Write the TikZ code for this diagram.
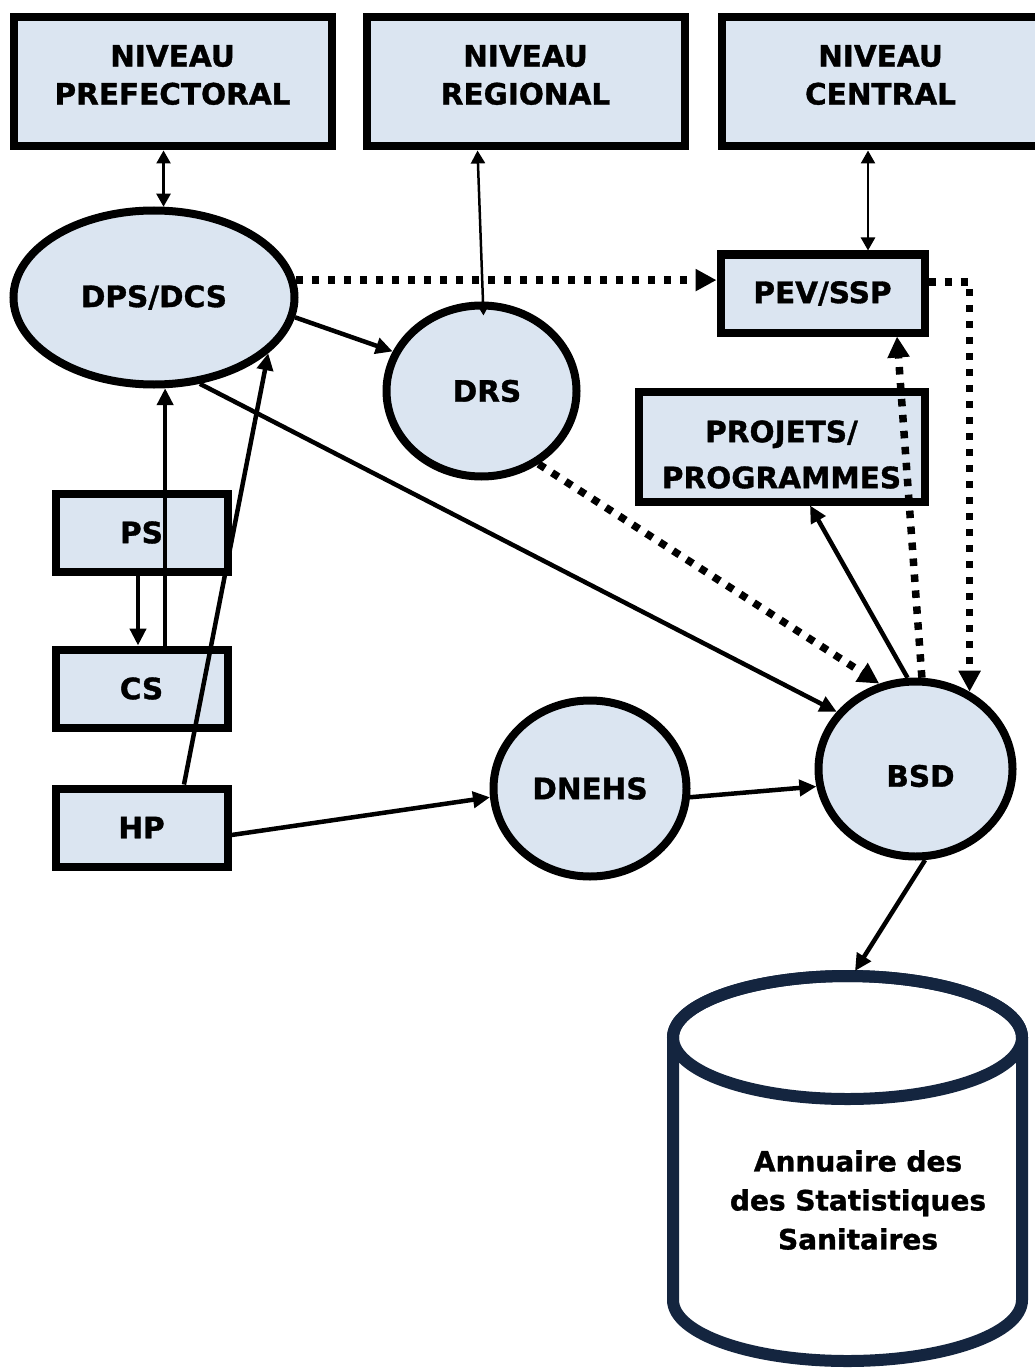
\documentclass[tikz,border=0pt]{standalone}
\usepackage{fontspec}
\setmainfont{DejaVu Sans}[BoldFeatures={FakeBold=1.2}]
\usetikzlibrary{arrows.meta,shapes.geometric,calc}
\definecolor{boxfill}{HTML}{DBE5F1}
\definecolor{navy}{HTML}{14253F}
\begin{document}
\begin{tikzpicture}[x=1pt,y=-1pt,
  box/.style={draw=black,line width=8pt,fill=boxfill,inner sep=0pt,
    font=\bfseries\fontsize{29.5}{38}\selectfont,align=center},
  ell/.style={box,ellipse},
  txt/.style={font=\bfseries\fontsize{29.5}{38}\selectfont,align=center,inner sep=0pt},
  thinlink/.style={line width=2.5pt,{Triangle[length=13pt,width=14pt]}-{Triangle[length=13pt,width=14pt]}},
  link/.style={line width=4.5pt,-{Triangle[length=17pt,width=16pt]}},
  dotlink/.style={line width=7.5pt,dash pattern=on 7.5pt off 8.5pt,line cap=butt,-{Triangle[length=21pt,width=21pt]}}
]
\useasboundingbox (0,0) rectangle (1035,1372);
\fill[white] (0,0) rectangle (1035,1372);

% top level boxes
\node[box,minimum width=318pt,minimum height=129pt] (pref) at (172.5,82) {};
\node[txt] (preft) at ([yshift=7pt]pref.center) {NIVEAU\\PREFECTORAL};
\node[box,minimum width=318pt,minimum height=129pt] (reg) at (525.5,82) {};
\node[txt] (regt) at ([yshift=7pt]reg.center) {NIVEAU\\REGIONAL};
\node[box,minimum width=318pt,minimum height=129pt] (cent) at (880.5,82) {};
\node[txt] (centt) at ([yshift=7pt]cent.center) {NIVEAU\\CENTRAL};

% ellipses
\node[ell,minimum width=281pt,minimum height=174pt] (dps) at (154,297.5) {DPS/DCS};
\node[ell,minimum width=190pt,minimum height=171pt] (drs) at (481.5,391) {\hspace*{11pt}DRS};
\node[ell,minimum width=193pt,minimum height=176pt] (dnehs) at (590,788.5) {DNEHS};
\node[ell,minimum width=194pt,minimum height=175pt] (bsd) at (915.5,769) {};
\node[txt] (bsdt) at ([xshift=5pt,yshift=-7pt]bsd.center) {BSD};

% boxes
\node[box,minimum width=204pt,minimum height=78pt] (pev) at (822.5,293.5) {PEV/SSP};
\node[box,minimum width=286pt,minimum height=110pt] (proj) at (781.5,446.5) {};
\node[txt,font=\bfseries\fontsize{29.5}{46}\selectfont] (projt) at ([yshift=-8pt]proj.center) {PROJETS/\\PROGRAMMES};
\node[box,minimum width=172pt,minimum height=78pt] (ps) at (141.5,532.5) {PS};
\node[box,minimum width=172pt,minimum height=78pt] (cs) at (141.5,688.5) {CS};
\node[box,minimum width=172pt,minimum height=78pt] (hp) at (141.5,827.5) {HP};

% cylinder
\draw[navy,line width=12pt,fill=white,line join=round]
  (673,1037.5) -- (673,1300) arc[start angle=180,end angle=360,x radius=174.5pt,y radius=61pt]
  -- (1022,1037.5) arc[start angle=0,end angle=180,x radius=174.5pt,y radius=61.5pt] -- cycle;
\draw[navy,line width=12pt] (847.5,1037.5) ellipse[x radius=174.5pt,y radius=61.5pt];
\coordinate (cyl) at (855,971);
\node[txt,font=\bfseries\fontsize{28}{39}\selectfont] (ann) at (858,1200) {Annuaire des\\des Statistiques\\Sanitaires};

% connectors
\draw[thinlink] (dps.84 |- pref.south) -- (dps.84);
\draw[thinlink] ([xshift=-4pt]drs.north |- reg.south) -- ([xshift=2pt,yshift=-14pt]drs.north);
\draw[thinlink] ([xshift=-12.5pt]cent.south) -- ([xshift=-12.5pt]cent.south |- pev.north);

\draw[dotlink] (dps.7) -- (dps.7 -| pev.west);
\draw[link] (dps.-8) -- (drs.156);
\draw[link] (dps.-62) -- (bsd.144);
\draw[dotlink] (drs.-52) -- (bsd.113);
\draw[dotlink,line join=miter] ([yshift=11.5pt]pev.east) -| (bsd.55);
\draw[dotlink] (bsd.86) -- ([xshift=74.5pt]pev.south);
\draw[link] (bsd.95) -- ([xshift=28.5pt]proj.south);

\draw[link] ([xshift=-3.5pt]ps.south) -- ([xshift=-3.5pt]cs.north);
\draw[link] (cs.north -| dps.-83) -- (dps.-83);
\draw[link] ([xshift=42.5pt]hp.north) -- (dps.-26);
\draw[link] ([yshift=-7.5pt]hp.east) -- (dnehs.185);
\draw[link] (dnehs.-5) -- (bsd.190);
\draw[link] (bsd.-84) -- (cyl);
\end{tikzpicture}
\end{document}
